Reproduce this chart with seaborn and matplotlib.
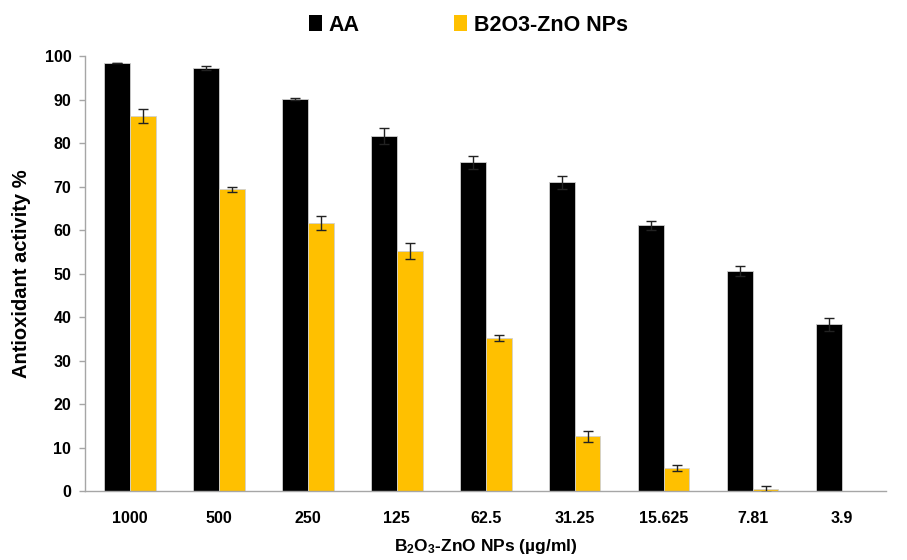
import pandas as pd
import numpy as np
import matplotlib
matplotlib.use('Agg')
import matplotlib.pyplot as plt
import seaborn as sns
from matplotlib.patches import Patch

sns.set_style('white')
plt.rcParams['font.family'] = ['Liberation Sans', 'DejaVu Sans']
plt.rcParams['font.weight'] = 'bold'
plt.rcParams['text.color'] = 'black'
plt.rcParams['axes.labelcolor'] = 'black'
plt.rcParams['xtick.color'] = 'black'
plt.rcParams['ytick.color'] = 'black'
plt.rcParams['mathtext.fontset'] = 'custom'
plt.rcParams['mathtext.rm'] = 'Liberation Sans:bold'
plt.rcParams['mathtext.default'] = 'rm'

# 数据
concentrations = ['1000', '500', '250', '125', '62.5', '31.25', '15.625', '7.81', '3.9']
aa_values = [98.4, 97.2, 90.1, 81.6, 75.6, 71.0, 61.1, 50.6, 38.4]
aa_err = [0.0, 0.5, 0.3, 1.9, 1.5, 1.5, 1.0, 1.1, 1.5]
np_values = [86.2, 69.4, 61.6, 55.2, 35.2, 12.6, 5.3, 0.5, np.nan]
np_err = [1.6, 0.6, 1.7, 1.8, 0.7, 1.2, 0.7, 0.7, np.nan]
series = ['AA', 'B2O3-ZnO NPs']
colors = ['#000000', '#FFC000']

df = pd.DataFrame({
    'conc': concentrations * 2,
    'value': aa_values + np_values,
    'group': [series[0]] * len(concentrations) + [series[1]] * len(concentrations),
})

fig = plt.figure(figsize=(9.07, 5.6), dpi=100)
ax = fig.add_axes([0.094, 0.123, 0.883, 0.777])

sns.barplot(data=df, x='conc', y='value', hue='group', palette=colors,
            width=0.58, errorbar=None, ax=ax, legend=False, saturation=1,
            edgecolor='#d0d0d0', linewidth=0.6)

# 误差线
for cont, errs in zip(ax.containers, [aa_err, np_err]):
    errs = [e for e in errs if not np.isnan(e)]
    bars = [b for b in cont if not np.isnan(b.get_height())]
    xs = [b.get_x() + b.get_width() / 2 for b in bars]
    ys = [b.get_height() for b in bars]
    ax.errorbar(xs, ys, yerr=errs[:len(bars)], fmt='none', ecolor='#222222',
                elinewidth=1, capsize=3.5, capthick=1, zorder=5)

ax.set_ylim(0, 100)
ax.set_xlim(-0.5, len(concentrations) - 0.5)
ax.set_yticks(range(0, 101, 10))
ax.set_yticklabels([str(v) for v in range(0, 101, 10)], fontsize=11.5, fontweight='bold')
ax.set_xticks(range(len(concentrations)))
ax.set_xticklabels(concentrations, fontsize=11.5, fontweight='bold')
ax.tick_params(axis='x', length=0, pad=14)
ax.set_xticks(np.arange(-0.5, len(concentrations), 1), minor=True)
ax.tick_params(axis='x', which='minor', length=5, color='#a6a6a6', width=1)
ax.tick_params(axis='y', length=4, color='#a6a6a6', width=1, left=True, labelcolor='black', pad=6)

for s in ['top', 'right']:
    ax.spines[s].set_visible(False)
for s in ['left', 'bottom']:
    ax.spines[s].set_color('#a6a6a6')
    ax.spines[s].set_linewidth(1)

ax.set_ylabel('Antioxidant activity %', fontsize=14.5, fontweight='bold', labelpad=10)
ax.set_xlabel('B$_2$O$_3$-ZnO NPs (µg/ml)', fontsize=12.5, fontweight='bold', labelpad=8)

handles = [Patch(facecolor=c, edgecolor='none') for c in colors]
fig.legend(handles, series, loc='center', bbox_to_anchor=(0.5165, 0.955), ncol=2,
           frameon=False, prop={'size': 15.5, 'weight': 'bold'},
           handlelength=0.6, handleheight=0.75, handletextpad=0.3, columnspacing=4.4)

plt.savefig('out.png', dpi=100)
